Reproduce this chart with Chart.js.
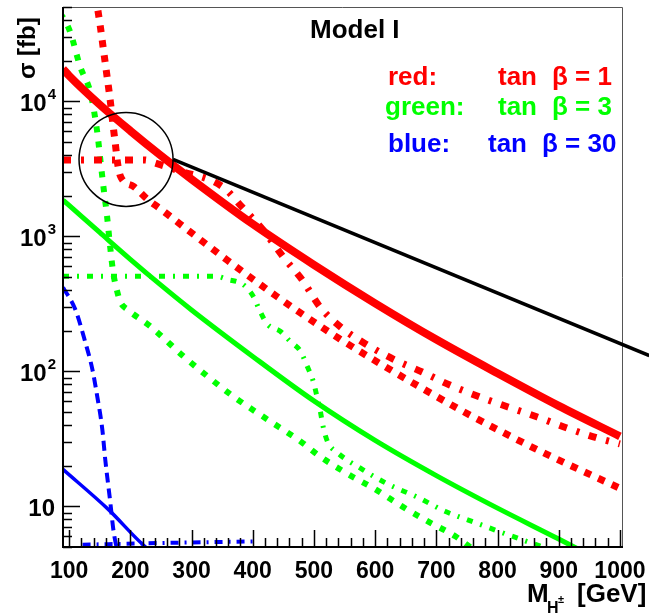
<!DOCTYPE html>
<html>
<head>
<meta charset="utf-8">
<script src="https://cdn.jsdelivr.net/npm/chart.js@4.4.0/dist/chart.umd.min.js"></script>
<style>
	html, body { margin: 0; padding: 0; background: #fff; }
	canvas { display: block; }
</style>
</head>
<body>
<canvas id="xsec-chart" width="649" height="614"></canvas>
<script>
// tan beta = 1 (red)
const redSolidMass = [90, 100, 150, 200, 250, 300, 400, 500, 600, 700, 800, 900, 1000];
const redSolidSigma = [17400, 15500, 9460, 6050, 3960, 2650, 1233, 615, 319, 172, 96.8, 55.5, 33.0];
const redDotMass = [140, 146, 151, 156, 162, 167, 172, 176, 179, 184, 205, 228, 249, 303, 358, 401, 440, 478, 543, 611, 673, 742, 809, 874, 1000];
const redDotSigma = [78000, 50600, 35900, 24300, 15300, 10300, 6540, 4640, 3530, 2780, 2345, 1880, 1600, 1035, 668, 479, 357, 271, 173, 112, 76.7, 51, 35.3, 25.1, 13.6];
const redDashDotMass = [90, 224, 240, 276, 351, 384, 417, 450, 481, 510, 546, 587, 633, 677, 722, 771, 817, 865, 914, 963, 1000];
const redDashDotSigma = [3680, 3680, 3495, 3100, 2325, 1622, 1114, 703, 475, 300, 209, 157, 121, 98.9, 79.2, 64.6, 54.5, 45.9, 38.0, 32.1, 29.0];

// tan beta = 3 (green)
const greenSolidMass = [90, 100, 150, 200, 250, 300, 400, 500, 600, 700, 800, 900, 950];
const greenSolidSigma = [1858, 1695, 1069, 676, 435, 285, 129, 60.4, 30.8, 16.9, 9.7, 5.73, 4.37];
const greenDotMass = [85, 94, 102, 118, 135, 146, 151, 156, 162, 167, 172, 179, 184, 195, 233, 287, 326, 368, 424, 478, 510, 556, 600, 644, 687, 731, 760];
const greenDotSigma = [45000, 39100, 32400, 18100, 11500, 5890, 3715, 2345, 1406, 843, 541, 384, 324, 288, 215, 129, 92, 65.3, 44, 30.3, 23.4, 17.3, 13.4, 10, 7.7, 6.0, 4.8];
const greenDashDotMass = [90, 340, 358, 384, 401, 412, 424, 445, 461, 478, 489, 499, 505, 510, 515, 522, 538, 579, 621, 669, 714, 763, 807, 858, 880];
const greenDashDotSigma = [506, 506, 480, 441, 359, 278, 223, 198, 167, 141, 109, 84, 65, 52, 39, 30.3, 25.1, 18.8, 14.6, 11.7, 9.2, 7.6, 6.4, 5.3, 4.9];

// tan beta = 30 (blue)
const blueSolidMass = [90, 164, 225, 240];
const blueSolidSigma = [18.8, 9.5, 5.0, 4.5];
const blueDashMass = [90, 110, 126.5, 138, 146, 154.3, 159, 167.3, 172.2, 175.5, 180];
const blueDashSigma = [419, 288, 164, 103.5, 65, 37, 22.3, 10.7, 6.76, 5.5, 4.5];
const blueDashDotMass = [122, 250, 400];
const blueDashDotSigma = [5.2, 5.35, 5.5];

// axes
const xTickValues = [100, 200, 300, 400, 500, 600, 700, 800, 900, 1000];
const yDecades = [10, 100, 1000, 10000];

// zoom circle (centre in data units) and end of the pointer line
const circleCentre = [193, 3715];
const pointerEnd = [1048, 131];

const FONT = "'Liberation Sans', Arial, Helvetica, sans-serif";
const RED = "#ff0000";
const GREEN = "#00ff00";
const BLUE = "#0000ff";

function pairs(xs, ys) {
	return xs.map((m, i) => ({ x: m, y: ys[i] }));
}

function curve(xs, ys, color, width, dash) {
	return {
		data: pairs(xs, ys),
		borderColor: color,
		borderWidth: width,
		borderDash: dash || [],
		pointRadius: 0,
		fill: false,
		cubicInterpolationMode: "monotone",
	};
}

const overlay = {
	id: "overlay",
	afterDraw(chart) {
		const ctx = chart.ctx;
		const a = chart.chartArea;
		const x = chart.scales.x;
		const y = chart.scales.y;
		ctx.save();

		// frame
		ctx.strokeStyle = "#555";
		ctx.lineWidth = 1;
		ctx.beginPath();
		ctx.moveTo(a.left, a.top + 0.5);
		ctx.lineTo(a.right - 0.5, a.top + 0.5);
		ctx.lineTo(a.right - 0.5, a.bottom);
		ctx.stroke();
		ctx.strokeStyle = "#000";
		ctx.lineWidth = 2;
		ctx.beginPath();
		ctx.moveTo(a.left, a.top);
		ctx.lineTo(a.left, a.bottom);
		ctx.lineTo(a.right, a.bottom);
		ctx.stroke();

		// inside ticks
		ctx.lineWidth = 1.5;
		ctx.beginPath();
		for (let v = xTickValues[0]; v <= xTickValues[xTickValues.length - 1]; v += 20) {
			const px = Math.round(x.getPixelForValue(v)) + 0.5;
			const len = v % 100 === 0 ? 17 : 9;
			ctx.moveTo(px, a.bottom);
			ctx.lineTo(px, a.bottom - len);
		}
		[1, 10, 100, 1000, 10000].forEach((d) => {
			for (let m = 1; m <= 9; m++) {
				const v = m * d;
				if (v < y.min || v > y.max) continue;
				const py = Math.round(y.getPixelForValue(v)) + 0.5;
				const len = m === 1 ? 17 : 9;
				ctx.moveTo(a.left, py);
				ctx.lineTo(a.left + len, py);
			}
		});
		ctx.stroke();

		// y tick labels with exponents
		ctx.fillStyle = "#000";
		ctx.textAlign = "right";
		yDecades.forEach((v) => {
			const py = y.getPixelForValue(v);
			const exp = Math.round(Math.log10(v));
			let right = a.left - 7;
			if (exp > 1) {
				ctx.font = "bold 15px " + FONT;
				ctx.textBaseline = "alphabetic";
				ctx.fillText(String(exp), right, py - 2);
				right -= ctx.measureText(String(exp)).width + 1;
			} else {
				right -= 1;
			}
			ctx.font = "bold 24px " + FONT;
			ctx.textBaseline = "middle";
			ctx.fillText("10", right, py + 3);
		});

		// axis titles
		ctx.textAlign = "left";
		ctx.textBaseline = "alphabetic";
		ctx.save();
		ctx.translate(35, 79);
		ctx.rotate(-Math.PI / 2);
		ctx.font = "bold 24px " + FONT;
		ctx.fillText("σ [fb]", 0, 0);
		ctx.restore();

		ctx.font = "bold 26px " + FONT;
		ctx.fillText("M", 527, 602);
		ctx.font = "bold 16px " + FONT;
		ctx.fillText("H", 547, 613);
		ctx.font = "bold 11px " + FONT;
		ctx.fillText("±", 558, 603);
		ctx.font = "bold 26px " + FONT;
		ctx.fillText("[GeV]", 577, 602);

		// title and legend text
		ctx.font = "bold 26px " + FONT;
		ctx.fillText("Model I", 310, 38);
		const rows = [
			["red:", 388, "1", 498, 552, 85, RED],
			["green:", 385, "3", 498, 552, 115, GREEN],
			["blue:", 388, "30", 488, 542, 152, BLUE],
		];
		rows.forEach(([name, nx, val, tx, bx, base, color]) => {
			ctx.fillStyle = color;
			ctx.font = "bold 26px " + FONT;
			ctx.fillText(name, nx, base);
			ctx.fillText("tan", tx, base);
			ctx.fillText("β = " + val, bx, base);
		});

		// zoom circle and pointer
		const cx = x.getPixelForValue(circleCentre[0]);
		const cy = y.getPixelForValue(circleCentre[1]);
		const r = 47;
		ctx.strokeStyle = "#000";
		ctx.lineWidth = 1.5;
		ctx.beginPath();
		ctx.arc(cx, cy, r, 0, Math.PI * 2);
		ctx.stroke();
		ctx.lineWidth = 3.5;
		ctx.beginPath();
		ctx.moveTo(cx + r, cy);
		ctx.lineTo(x.getPixelForValue(pointerEnd[0]), y.getPixelForValue(pointerEnd[1]));
		ctx.stroke();

		ctx.restore();
	},
};

const chart = new Chart(document.getElementById("xsec-chart").getContext("2d"), {
	type: "line",
	data: {
		datasets: [
			curve(redSolidMass, redSolidSigma, RED, 8),
			curve(redDotMass, redDotSigma, RED, 7, [7, 8]),
			curve(redDashDotMass, redDashDotSigma, RED, 7, [8, 10, 3, 10]),
			curve(greenSolidMass, greenSolidSigma, GREEN, 5),
			curve(greenDotMass, greenDotSigma, GREEN, 6, [6, 9]),
			curve(greenDashDotMass, greenDashDotSigma, GREEN, 5, [6, 8, 2, 8]),
			curve(blueSolidMass, blueSolidSigma, BLUE, 3.5),
			curve(blueDashMass, blueDashSigma, BLUE, 4, [10, 6]),
			curve(blueDashDotMass, blueDashDotSigma, BLUE, 4, [8, 6, 2, 6]),
		],
	},
	options: {
		responsive: false,
		devicePixelRatio: 1,
		animation: false,
		layout: { padding: { top: 7, right: 26, left: 0, bottom: 0 } },
		plugins: {
			legend: { display: false },
			tooltip: { enabled: false },
		},
		scales: {
			x: {
				type: "linear",
				min: 90,
				max: 1005,
				grid: { display: false },
				border: { display: false },
				afterBuildTicks: (scale) => {
					scale.ticks = xTickValues.map((v) => ({ value: v }));
				},
				afterFit: (scale) => {
					scale.height = 67;
				},
				ticks: {
					autoSkip: false,
					maxRotation: 0,
					padding: 3,
					color: "#000",
					font: { family: FONT, size: 23, weight: "bold" },
					callback: (value) => String(value),
				},
			},
			y: {
				type: "logarithmic",
				min: 5,
				max: 50000,
				grid: { display: false },
				border: { display: false },
				ticks: { display: false },
				afterFit: (scale) => {
					scale.width = 63;
				},
			},
		},
	},
	plugins: [overlay],
});
</script>
</body>
</html>
